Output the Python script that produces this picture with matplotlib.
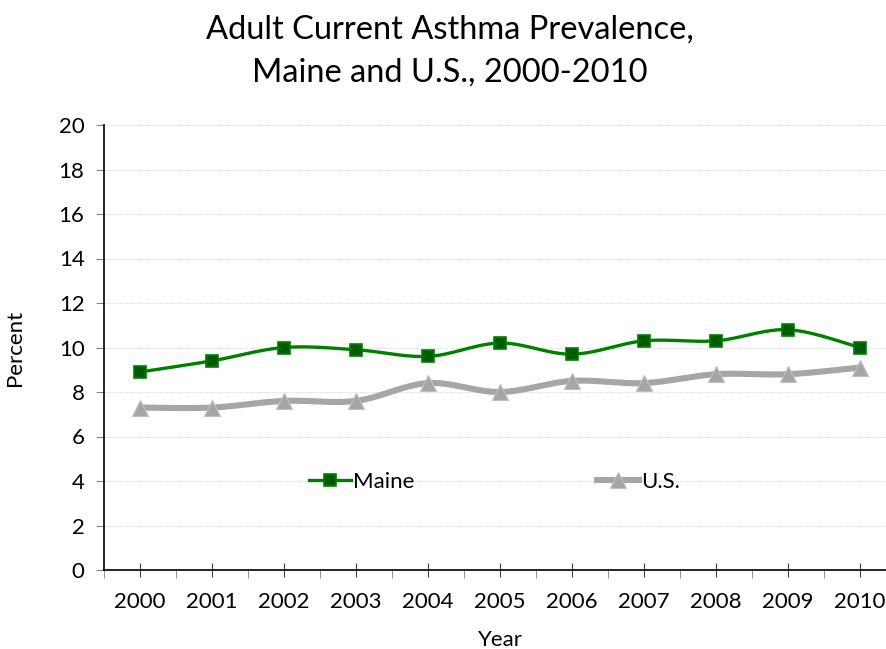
import numpy as np
import matplotlib
matplotlib.use("Agg")
import matplotlib.pyplot as plt
from matplotlib.lines import Line2D
from matplotlib.ticker import MultipleLocator

plt.rcParams['font.family'] = ['Lato', 'DejaVu Sans']

years = [2000, 2001, 2002, 2003, 2004, 2005, 2006, 2007, 2008, 2009, 2010]
maine = [8.9, 9.4, 10.0, 9.9, 9.6, 10.2, 9.7, 10.3, 10.3, 10.8, 10.0]
us = [7.3, 7.3, 7.6, 7.6, 8.4, 8.0, 8.5, 8.4, 8.8, 8.8, 9.1]

GREEN = '#008000'
DARK_GREEN = '#005a00'
GRAY = '#a6a6a6'
FS = 16


def smooth(x, y, n=30):
    """Bezier smoothing like spreadsheet 'smoothed line' charts."""
    p = np.column_stack([x, y]).astype(float)
    pts = np.vstack([p[0], p, p[-1]])
    out = []
    t = np.linspace(0, 1, n)[:, None]
    for i in range(1, len(pts) - 2):
        p0, p3 = pts[i], pts[i + 1]
        c1 = p0 + (pts[i + 1] - pts[i - 1]) / 6.0
        c2 = p3 - (pts[i + 2] - pts[i]) / 6.0
        seg = ((1 - t) ** 3 * p0 + 3 * (1 - t) ** 2 * t * c1
               + 3 * (1 - t) * t ** 2 * c2 + t ** 3 * p3)
        out.append(seg if i == 1 else seg[1:])
    seg = np.vstack(out)
    return seg[:, 0], seg[:, 1]


fig = plt.figure(figsize=(8.86, 6.49), dpi=100)
W, H = 886, 649
ax = fig.add_axes([104 / W, (H - 570) / H, 792 / W, 445 / H])

xs, ys = smooth(years, us)
ax.plot(xs, ys, color=GRAY, lw=4.4, solid_capstyle='round', zorder=3)
ax.plot(years, us, ls='none', marker='^', ms=12, mfc=GRAY, mec='#bfbfbf',
        mew=0.8, zorder=4)

xs, ys = smooth(years, maine)
ax.plot(xs, ys, color=GREEN, lw=2.4, zorder=5)
ax.plot(years, maine, ls='none', marker='s', ms=8.5, mfc=DARK_GREEN,
        mec=GREEN, mew=1.2, zorder=6)

ax.set_xlim(1999.5, 2010.5)
ax.set_ylim(0, 20)
ax.yaxis.set_major_locator(MultipleLocator(2))
ax.set_xticks(years)
ax.set_xticks(np.arange(1999.5, 2011, 1.0), minor=True)
ax.grid(axis='y', color='#d9d9d9', lw=0.8, ls=(0, (1, 1)))
ax.set_axisbelow(True)

for s in ('top', 'right'):
    ax.spines[s].set_visible(False)
for s in ('left', 'bottom'):
    ax.spines[s].set_color('black')
    ax.spines[s].set_linewidth(1.2)

ax.tick_params(axis='y', which='major', direction='out', length=6,
               color='#808080', labelsize=FS, pad=8)
ax.tick_params(axis='x', which='major', direction='inout', length=10,
               color='#404040', labelsize=FS, pad=11)
ax.tick_params(axis='x', which='minor', direction='out', length=6,
               color='#808080')

ax.set_ylabel('Percent', fontsize=FS, labelpad=24)
ax.set_xlabel('Year', fontsize=FS, labelpad=13)

fig.text(0.508, 0.955, 'Adult Current Asthma Prevalence,', ha='center',
         va='center', fontsize=23.5)
fig.text(0.508, 0.889, 'Maine and U.S., 2000-2010', ha='center',
         va='center', fontsize=23.5)

handles = [
    Line2D([], [], color=GREEN, lw=2.4, marker='s', ms=8.5,
           mfc=DARK_GREEN, mec=GREEN, mew=1.2),
    Line2D([], [], color=GRAY, lw=4.4, marker='^', ms=12,
           mfc=GRAY, mec='#bfbfbf', mew=0.8),
]
ax.legend(handles, ['Maine', 'U.S.'], ncol=2, loc='center',
          bbox_to_anchor=(0.493, 0.198), frameon=False, fontsize=FS,
          handlelength=1.9, handletextpad=0.1, columnspacing=8.2)

fig.savefig('out.png', dpi=100, facecolor='white')
